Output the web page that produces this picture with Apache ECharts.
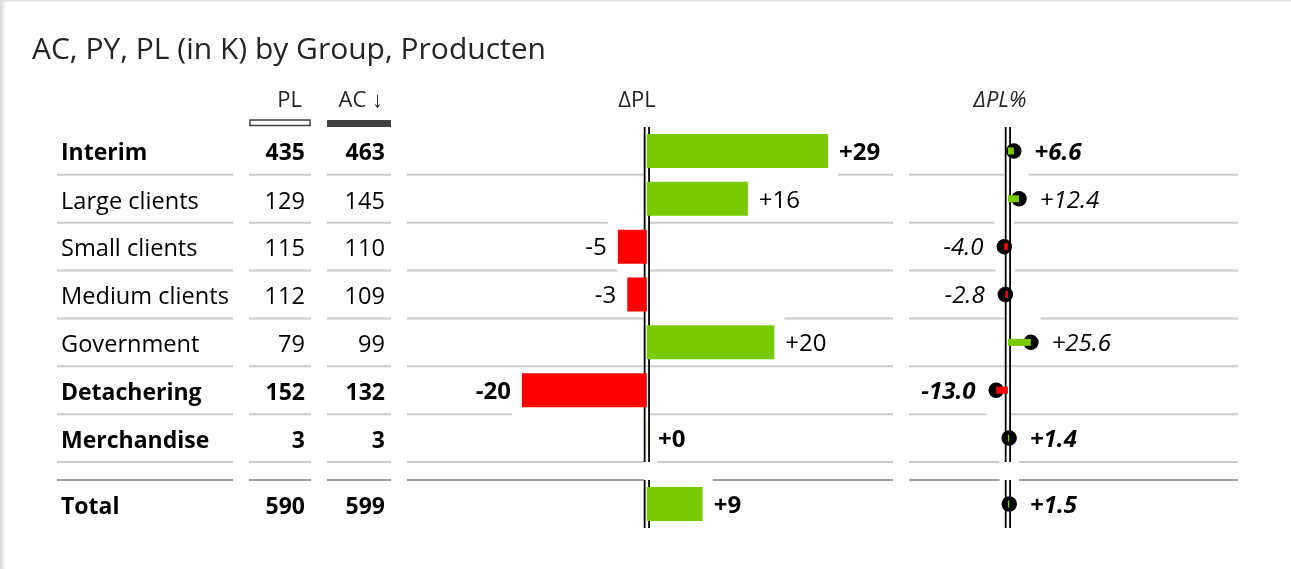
<!DOCTYPE html>
<html><head><meta charset="utf-8">
<script src="https://cdn.jsdelivr.net/npm/echarts@6/dist/echarts.min.js"></script>
<style>html,body{margin:0;padding:0;background:#fff;}#c{width:1291px;height:569px;}</style>
</head><body><div id="c"></div>
<script>
// ---------------- data ----------------
const categories = ['Interim', 'Large clients', 'Small clients', 'Medium clients', 'Government', 'Detachering', 'Merchandise'];
const isGroup = [true, false, false, false, false, true, true];
const plValues = [435, 129, 115, 112, 79, 152, 3];
const acValues = [463, 145, 110, 109, 99, 132, 3];
const deltaPL = [28.7, 16.0, -4.6, -3.1, 20.2, -19.8, 0.04];
const deltaPLPct = [6.6, 12.4, -4.0, -2.8, 25.6, -13.0, 1.4];
const totalLabel = ['Total'];
const totalPL = [590];
const totalAC = [599];
const totalDeltaPL = [8.85];
const totalDeltaPLPct = [1.5];
const headers = { pl: 'PL', ac: 'AC ↓', dpl: 'ΔPL', pct: 'ΔPL%' };
const titleText = 'AC, PY, PL (in K) by Group, Producten';

// ---------------- style / layout ----------------
const FONT = '"Open Sans", "Noto Sans", sans-serif';
const GREEN = '#7ACA00', RED = '#FF0000';
const SEP = '#cccccc', SEP_TOTAL = '#a0a0a0';
const DOT = 15.5;
const cols = [
  { key: 'name', x0: 57, x1: 233 },
  { key: 'pl', x0: 249, x1: 311 },
  { key: 'ac', x0: 327, x1: 391 },
  { key: 'dpl', x0: 407, x1: 893, min: -38, max: 39 },
  { key: 'pct', x0: 909, x1: 1238, min: -110, max: 256 }
];
const sections = [
  { key: 'main', top: 127, height: 335, names: categories, bold: isGroup, pl: plValues, ac: acValues, dpl: deltaPL, pct: deltaPLPct },
  { key: 'total', top: 480, height: 48, names: totalLabel, bold: [true], pl: totalPL, ac: totalAC, dpl: totalDeltaPL, pct: totalDeltaPLPct }
];

const grid = [], xAxis = [], yAxis = [], series = [];
function fmtSigned(v, d) { return (v >= 0 ? '+' : '') + v.toFixed(d); }

// horizontal extent (px) that a row's mark keeps clear of separator lines
function markGap(colKey, v, api) {
  const z = api.coord([0, 0])[0];
  const xv = api.coord([v, 0])[0];
  if (colKey === 'dpl') {
    return v >= 0 ? [z - 3, xv + 10] : [xv - 10, z + 3];
  }
  const r = DOT / 2 + 2;
  return [Math.min(z - 3, xv - r), Math.max(z + 3, xv + r)];
}

sections.forEach((sec) => {
  cols.forEach((col) => {
    const g = grid.length;
    grid.push({ left: col.x0, top: sec.top, width: col.x1 - col.x0, height: sec.height });
    xAxis.push({ type: 'value', gridIndex: g, show: false, min: col.min !== undefined ? col.min : 0, max: col.max !== undefined ? col.max : 1 });
    yAxis.push({ type: 'category', gridIndex: g, show: false, inverse: true, data: sec.names });
    const sepY = (c, band) => sec.key === 'main' ? c[1] + band / 2 : c[1] - band / 2;
    const sepColor = sec.key === 'main' ? SEP : SEP_TOTAL;
    if (col.key === 'name' || col.key === 'pl' || col.key === 'ac') {
      series.push({
        type: 'custom', xAxisIndex: g, yAxisIndex: g, silent: true,
        data: sec.names.map((n, i) => [0, i]),
        renderItem: (params, api) => {
          const i = params.dataIndex;
          const c0 = api.coord([0, i]), c1 = api.coord([1, i]);
          const band = api.size([0, 1])[1];
          const ly = sepY(c0, band);
          const isName = col.key === 'name';
          const text = isName ? sec.names[i] : String(sec[col.key][i]);
          const bold = sec.bold[i];
          return { type: 'group', children: [
            { type: 'line', shape: { x1: c0[0], y1: ly, x2: c1[0], y2: ly }, style: { stroke: sepColor, lineWidth: 2 } },
            { type: 'text', style: { text: text, x: isName ? c0[0] + 4 : c1[0] - 6, y: c0[1] + 3, align: isName ? 'left' : 'right', verticalAlign: 'middle',
              fontFamily: FONT, fontSize: bold ? 23 : 23.6, fontWeight: bold ? 'bold' : 'normal', fill: '#000' } }
          ] };
        }
      });
    } else {
      const vals = sec[col.key];
      // separators, broken where a neighbouring mark sits
      series.push({
        type: 'custom', xAxisIndex: g, yAxisIndex: g, silent: true, z: 1,
        data: sec.names.map((n, i) => [0, i]),
        renderItem: (params, api) => {
          const i = params.dataIndex;
          const cs = params.coordSys;
          const c0 = api.coord([0, i]);
          const band = api.size([0, 1])[1];
          const ly = sepY(c0, band);
          const gaps = [];
          if (sec.key === 'main') {
            if (sec.bold[i]) gaps.push(markGap(col.key, vals[i], api));
            if (i + 1 < vals.length && !sec.bold[i + 1]) gaps.push(markGap(col.key, vals[i + 1], api));
          } else {
            gaps.push(markGap(col.key, vals[i], api));
          }
          gaps.sort((a, b) => a[0] - b[0]);
          const segs = [];
          let x = cs.x;
          gaps.forEach((gp) => { if (gp[0] > x) segs.push([x, gp[0]]); x = Math.max(x, gp[1]); });
          if (x < cs.x + cs.width) segs.push([x, cs.x + cs.width]);
          return { type: 'group', children: segs.map((s) => ({ type: 'line', shape: { x1: s[0], y1: ly, x2: s[1], y2: ly }, style: { stroke: sepColor, lineWidth: 2 } })) };
        }
      });
      // zero axis (double line)
      series.push({
        type: 'custom', xAxisIndex: g, yAxisIndex: g, silent: true, z: 2,
        data: [[0, 0]],
        renderItem: (params, api) => {
          const cs = params.coordSys;
          const x = api.coord([0, 0])[0];
          const mk = (xx) => ({ type: 'line', shape: { x1: xx, y1: cs.y, x2: xx, y2: cs.y + cs.height }, style: { stroke: '#000', lineWidth: 1.8 } });
          return { type: 'group', children: [mk(x - 2.2), mk(x + 2.2)] };
        }
      });
      if (col.key === 'dpl') {
        series.push({
          type: 'bar', xAxisIndex: g, yAxisIndex: g, barWidth: 34, z: 3, silent: true,
          data: vals.map((v, i) => ({ value: v, itemStyle: { color: v >= 0 ? GREEN : RED },
            label: { position: v >= 0 ? 'right' : 'left', fontWeight: sec.bold[i] ? 'bold' : 'normal' } })),
          label: { show: true, distance: 11, offset: [0, 2], fontFamily: FONT, fontSize: 24, color: '#000', formatter: (p) => fmtSigned(p.value, 0) }
        });
      } else {
        series.push({
          type: 'scatter', xAxisIndex: g, yAxisIndex: g, symbolSize: DOT, z: 3, silent: true,
          itemStyle: { color: '#000', opacity: 1 },
          data: vals.map((v, i) => ({ value: [v, i],
            label: { position: v >= 0 ? 'right' : 'left', fontWeight: sec.bold[i] ? 'bold' : 'normal' } })),
          label: { show: true, distance: 13, offset: [0, 2], fontFamily: FONT, fontSize: 24, fontStyle: 'italic', color: '#000',
            formatter: (p) => fmtSigned(p.value[0], 1) }
        });
        series.push({
          type: 'bar', xAxisIndex: g, yAxisIndex: g, barWidth: 7, z: 4, silent: true,
          data: vals.map((v) => ({ value: v, itemStyle: { color: v >= 0 ? GREEN : RED } }))
        });
      }
    }
  });
});

const hdrStyle = (extra) => Object.assign({ fontFamily: FONT, fontSize: 22, fill: '#252423', verticalAlign: 'middle' }, extra);
const graphic = [
  { type: 'rect', shape: { x: 0, y: 0, width: 6, height: 569 }, style: { fill: new echarts.graphic.LinearGradient(0, 0, 1, 0, [{ offset: 0, color: '#d6d6d6' }, { offset: 1, color: '#ffffff' }]) } },
  { type: 'rect', shape: { x: 0, y: 0, width: 1291, height: 1.5 }, style: { fill: '#e2e2e2' } },
  { type: 'text', style: hdrStyle({ text: headers.pl, x: 302, y: 101, align: 'right' }) },
  { type: 'text', style: hdrStyle({ text: headers.ac, x: 383, y: 101, align: 'right' }) },
  { type: 'text', style: hdrStyle({ text: headers.dpl, x: 637, y: 101, align: 'center' }) },
  { type: 'text', style: hdrStyle({ text: headers.pct, x: 1000, y: 101, align: 'center', fontStyle: 'italic' }) },
  { type: 'rect', shape: { x: 250, y: 120, width: 60, height: 5.5 }, style: { fill: '#fff', stroke: '#404040', lineWidth: 1.5 } },
  { type: 'rect', shape: { x: 327, y: 120, width: 64, height: 7 }, style: { fill: '#404040' } }
];

const chart = echarts.init(document.getElementById('c'), null, { renderer: 'canvas' });
chart.setOption({
  animation: false,
  backgroundColor: '#fff',
  title: { text: titleText, left: 27, top: 30, textStyle: { fontFamily: FONT, fontSize: 30, fontWeight: 'normal', color: '#252423' } },
  grid, xAxis, yAxis, series, graphic
});
</script></body></html>
